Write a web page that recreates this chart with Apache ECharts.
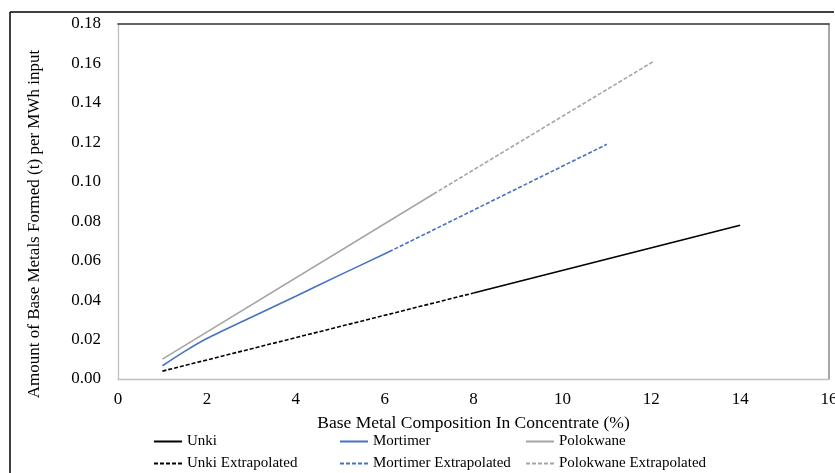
<!DOCTYPE html>
<html>
<head>
<meta charset="utf-8">
<script src="https://cdn.jsdelivr.net/npm/echarts@6/dist/echarts.min.js"></script>
<style>
  html, body { margin: 0; padding: 0; background: #fff; }
  #chart { width: 835px; height: 473px; }
</style>
</head>
<body>
<div id="chart"></div>
<script>
// values (x = base metal %, y = t per MWh)
const unkiX = [8, 14];
const unkiY = [0.0436, 0.078];
const unkiExtX = [1, 8];
const unkiExtY = [0.004, 0.0436];
const mortX = [1, 1.5, 2, 3, 4, 5, 6.1];
const mortY = [0.0067, 0.0140, 0.0205, 0.0313, 0.0420, 0.0528, 0.0645];
const mortExtX = [6.1, 11];
const mortExtY = [0.0645, 0.119];
const polX = [1, 7.1];
const polY = [0.0101, 0.0938];
const polExtX = [7.1, 12.05];
const polExtY = [0.0938, 0.161];

const FONT = 'Liberation Serif';
const SOLID_ICON = 'path://M0,0H28V2H0Z';
const DASH_ICON = 'path://M0,0H4V2H0Z M6,0H10V2H6Z M12,0H16V2H12Z M18,0H22V2H18Z M24,0H28V2H24Z';
const pairs = (xs, ys) => xs.map((x, i) => [x, ys[i]]);

function line(name, xs, ys, color, dashed, smooth) {
    return {
        name: name,
        type: 'line',
        symbol: 'none',
        smooth: smooth ? 0.3 : false,
        data: pairs(xs, ys),
        lineStyle: { color: color, width: 1.6, type: dashed ? [4, 2] : 'solid' },
        itemStyle: { color: color }
    };
}

// one legend per entry so the 3x2 layout lines up like the reference
function legendItem(name, left, top, dashed) {
    return {
        left: left,
        top: top,
        padding: 0,
        itemWidth: 28,
        itemHeight: 2,
        icon: dashed ? DASH_ICON : SOLID_ICON,
        data: [name],
        textStyle: { fontFamily: FONT, fontSize: 15, color: '#000' },
        selectedMode: false
    };
}

const chart = echarts.init(document.getElementById('chart'));
chart.setOption({
    animation: false,
    backgroundColor: '#fff',
    grid: { left: 118, top: 24, right: 6, bottom: 94, outerBoundsMode: 'none' },
    legend: [
        legendItem('Unki', 154, 434, false),
        legendItem('Unki Extrapolated', 154, 456, true),
        legendItem('Mortimer', 340, 434, false),
        legendItem('Mortimer Extrapolated', 340, 456, true),
        legendItem('Polokwane', 526, 434, false),
        legendItem('Polokwane Extrapolated', 526, 456, true)
    ],
    xAxis: [
        {
            type: 'value', min: 0, max: 16, interval: 2,
            name: 'Base Metal Composition In Concentrate (%)',
            nameLocation: 'middle', nameGap: 35,
            nameTextStyle: { fontFamily: FONT, fontSize: 17.5, color: '#000' },
            axisLine: { show: true, onZero: false, lineStyle: { color: '#bfbfbf', width: 1.3 } },
            axisTick: { show: false },
            splitLine: { show: false },
            axisLabel: { fontFamily: FONT, fontSize: 17, color: '#000', margin: 12 }
        },
        {
            type: 'value', position: 'top', min: 0, max: 16,
            axisLine: { show: true, onZero: false, lineStyle: { color: '#333', width: 1.5 } },
            axisTick: { show: false }, axisLabel: { show: false }, splitLine: { show: false }
        }
    ],
    yAxis: [
        {
            type: 'value', min: 0, max: 0.18, interval: 0.02,
            axisLine: { show: true, onZero: false, lineStyle: { color: '#bfbfbf', width: 1.3 } },
            axisTick: { show: false },
            splitLine: { show: false },
            axisLabel: {
                fontFamily: FONT, fontSize: 17, color: '#000', margin: 17,
                formatter: v => v.toFixed(2)
            }
        },
        {
            type: 'value', position: 'right', min: 0, max: 0.18,
            axisLine: { show: true, onZero: false, lineStyle: { color: '#888', width: 1.5 } },
            axisTick: { show: false }, axisLabel: { show: false }, splitLine: { show: false }
        }
    ],
    graphic: [
        { type: 'line', shape: { x1: 10, y1: 12, x2: 834, y2: 12 }, style: { stroke: '#000', lineWidth: 1.5 } },
        { type: 'line', shape: { x1: 10, y1: 12, x2: 10, y2: 473 }, style: { stroke: '#000', lineWidth: 1.5 } },
        {
            type: 'text', x: 35, y: 224, rotation: Math.PI / 2,
            style: {
                text: 'Amount of Base Metals Formed (t) per MWh input',
                font: '17px "Liberation Serif"', fill: '#000',
                align: 'center', verticalAlign: 'middle'
            }
        }
    ],
    series: [
        line('Unki', unkiX, unkiY, '#000000', false),
        line('Mortimer', mortX, mortY, '#4472C4', false, true),
        line('Polokwane', polX, polY, '#A5A5A5', false),
        line('Unki Extrapolated', unkiExtX, unkiExtY, '#000000', true),
        line('Mortimer Extrapolated', mortExtX, mortExtY, '#4472C4', true),
        line('Polokwane Extrapolated', polExtX, polExtY, '#A5A5A5', true)
    ]
});
</script>
</body>
</html>
